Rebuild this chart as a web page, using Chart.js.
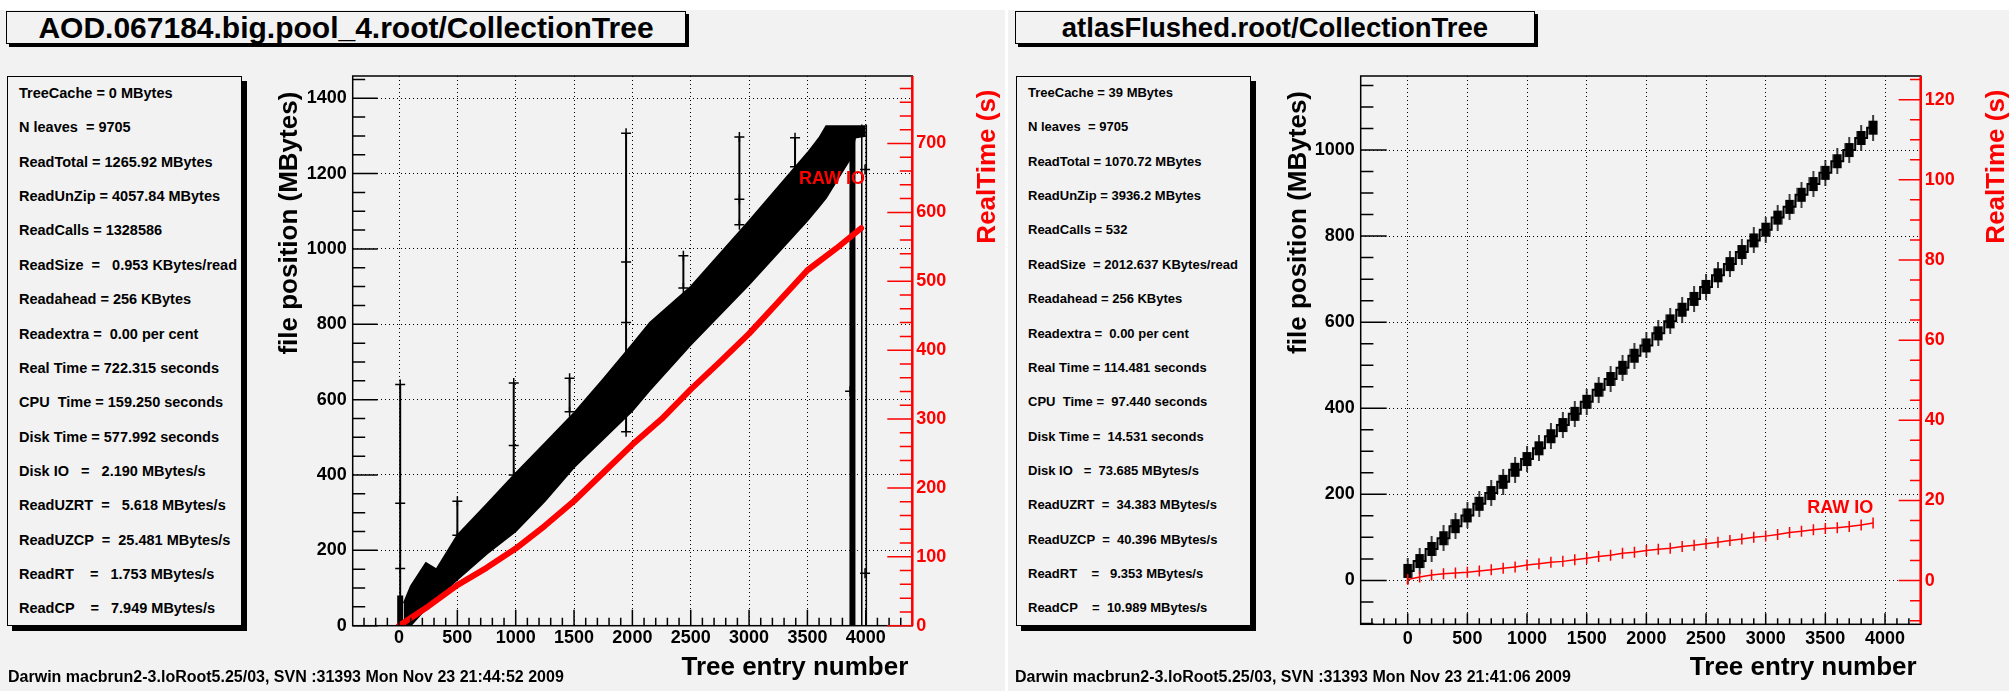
<!DOCTYPE html>
<html>
<head>
<meta charset="utf-8">
<title>TTreePerfStats</title>
<script src="https://cdn.jsdelivr.net/npm/chart.js@4.4.1/dist/chart.umd.min.js"></script>
<style>
  html, body { margin: 0; padding: 0; }
  body {
    width: 2009px; height: 691px; background: #fff; position: relative; overflow: hidden;
    font-family: "Liberation Sans", Arial, Helvetica, sans-serif; font-weight: bold; color: #000;
  }
  .pad { position: absolute; top: 10px; bottom: 0; background: #f2f2f2; }
  .titlebox {
    position: absolute; top: 11px; height: 33px; box-sizing: border-box; border: 1px solid #000;
    box-shadow: 3px 3px 0 #000; background: #f2f2f2; text-align: center; line-height: 31px; white-space: nowrap;
  }
  .stats {
    position: absolute; top: 76px; height: 550px; width: 235px; box-sizing: border-box;
    border: 1px solid #000; box-shadow: 5px 5px 0 #000; background: #f2f2f2;
  }
  .stats span { position: absolute; white-space: pre; line-height: 16px; }
  .footer { position: absolute; white-space: pre; font-size: 16px; line-height: 18px; }
  canvas { position: absolute; }
</style>
</head>
<body>
<div class="pad" style="left:0;width:1005px"></div>
<div class="pad" style="left:1008px;width:1001px"></div>

<div class="titlebox" style="left:6px;width:680px;font-size:30px">AOD.067184.big.pool_4.root/CollectionTree</div>
<div class="titlebox" style="left:1015px;width:520px;font-size:27.5px">atlasFlushed.root/CollectionTree</div>

<div class="stats" id="statsL" style="left:7px"></div>
<div class="stats" id="statsR" style="left:1016px"></div>

<canvas id="chartL" width="745" height="625" style="left:260px;top:66px"></canvas>
<canvas id="chartR" width="741" height="625" style="left:1268px;top:66px"></canvas>

<div class="footer" id="footL" style="left:8px;top:668px"></div>
<div class="footer" id="footR" style="left:1015px;top:668px"></div>

<script>
// ─── Left pad: AOD.067184.big.pool_4.root ──────────────────────────────────

const leftStats = [
  "TreeCache = 0 MBytes",
  "N leaves  = 9705",
  "ReadTotal = 1265.92 MBytes",
  "ReadUnZip = 4057.84 MBytes",
  "ReadCalls = 1328586",
  "ReadSize  =   0.953 KBytes/read",
  "Readahead = 256 KBytes",
  "Readextra =  0.00 per cent",
  "Real Time = 722.315 seconds",
  "CPU  Time = 159.250 seconds",
  "Disk Time = 577.992 seconds",
  "Disk IO   =   2.190 MBytes/s",
  "ReadUZRT  =   5.618 MBytes/s",
  "ReadUZCP  =  25.481 MBytes/s",
  "ReadRT    =   1.753 MBytes/s",
  "ReadCP    =   7.949 MBytes/s",
];
const leftFooter = "Darwin macbrun2-3.loRoot5.25/03, SVN :31393 Mon Nov 23 21:44:52 2009";

// edges of the dense band of file positions (entry -> MBytes)
const leftBandX = [40, 100, 230, 320, 500, 750, 1000, 1250, 1500, 1750, 2000, 2150, 2500, 3000, 3500, 3600, 3660, 3870, 3910, 4000];
const leftBandUpper = [60, 105, 167, 150, 241, 322, 405, 485, 565, 655, 748, 805, 900, 1075, 1255, 1295, 1326, 1326, 1326, 1326];
const leftBandLower = [0, 0, 45, 70, 122, 190, 250, 330, 420, 495, 570, 625, 745, 905, 1075, 1112, 1135, 1240, 1295, 1300];

// isolated far reads (vertical error bars)
const leftSpikeX = [10, 500, 983, 1462, 1946, 2437, 2917, 3394];
const leftSpikeLow = [0, 240, 400, 568, 515, 896, 1064, 1218];
const leftSpikeHigh = [640, 330, 644, 657, 1307, 982, 1297, 1295];

// single reads off the band
const leftOutlierX = [10, 10, 983, 1946, 1946, 2917, 851, 2122, 2837, 3866, 3994, 3994];
const leftOutlierY = [325, 152, 478, 965, 805, 1132, 245, 661, 901, 622, 1211, 139];

const leftBarX = [10, 3886];
const leftBarHigh = [80, 1320];
const leftEdgeX = [3966, 4005];
const leftEdgeHigh = [1330, 1330];

// RAW IO real time (s)
const leftRealX = [0, 250, 500, 750, 1000, 1250, 1500, 1750, 2000, 2250, 2500, 2750, 3000, 3250, 3500, 3750, 3960];
const leftRealTime = [0, 28, 59, 84, 112, 145, 181, 222, 263, 300, 343, 383, 424, 470, 516, 548, 577];

const leftXTicks = [0, 500, 1000, 1500, 2000, 2500, 3000, 3500, 4000];
const leftYTicks = [0, 200, 400, 600, 800, 1000, 1200, 1400];
const leftRtTicks = [0, 100, 200, 300, 400, 500, 600, 700];

// ─── Right pad: atlasFlushed.root ───────────────────────────────────────────

const rightStats = [
  "TreeCache = 39 MBytes",
  "N leaves  = 9705",
  "ReadTotal = 1070.72 MBytes",
  "ReadUnZip = 3936.2 MBytes",
  "ReadCalls = 532",
  "ReadSize  = 2012.637 KBytes/read",
  "Readahead = 256 KBytes",
  "Readextra =  0.00 per cent",
  "Real Time = 114.481 seconds",
  "CPU  Time =  97.440 seconds",
  "Disk Time =  14.531 seconds",
  "Disk IO   =  73.685 MBytes/s",
  "ReadUZRT  =  34.383 MBytes/s",
  "ReadUZCP  =  40.396 MBytes/s",
  "ReadRT    =   9.353 MBytes/s",
  "ReadCP    =  10.989 MBytes/s",
];
const rightFooter = "Darwin macbrun2-3.loRoot5.25/03, SVN :31393 Mon Nov 23 21:41:06 2009";

const rightEntries = [
  0, 100, 200, 300, 400, 500, 600, 700, 800, 900,
  1000, 1100, 1200, 1300, 1400, 1500, 1600, 1700, 1800, 1900,
  2000, 2100, 2200, 2300, 2400, 2500, 2600, 2700, 2800, 2900,
  3000, 3100, 3200, 3300, 3400, 3500, 3600, 3700, 3800, 3900,
];
const rightFilePos = [
  22, 45, 73, 98, 126, 151, 178, 203, 229, 257,
  282, 307, 335, 361, 387, 415, 443, 468, 494, 522,
  546, 574, 602, 629, 654, 682, 709, 735, 763, 790,
  815, 843, 868, 896, 921, 947, 974, 1000, 1028, 1052,
];
const rightRealTime = [
  0.3, 0.9, 1.4, 1.7, 1.9, 2.1, 2.4, 2.7, 3.1, 3.4,
  3.9, 4.2, 4.6, 4.8, 5.2, 5.6, 6.0, 6.3, 6.8, 7.1,
  7.5, 7.8, 8.1, 8.5, 8.8, 9.2, 9.6, 10.0, 10.4, 10.8,
  11.1, 11.5, 12.0, 12.3, 12.7, 13.0, 13.2, 13.5, 13.9, 14.4,
];

const rightXTicks = [0, 500, 1000, 1500, 2000, 2500, 3000, 3500, 4000];
const rightYTicks = [0, 200, 400, 600, 800, 1000];
const rightRtTicks = [0, 20, 40, 60, 80, 100, 120];

// ─── Helpers ────────────────────────────────────────────────────────────────

const FONT = '"Liberation Sans", Arial, Helvetica, sans-serif';
const RED = "#ff0000";

function range(from, to, step) {
  const out = [];
  for (let v = from; v <= to + 1e-9; v += step) out.push(Math.round(v * 1000) / 1000);
  return out;
}

const pts = (xs, ys) => xs.map((x, i) => ({ x, y: ys[i] }));

// vertical segments, separated by gaps
function verticals(xs, lows, highs) {
  const out = [];
  xs.forEach((x, i) => out.push({ x, y: lows[i] }, { x, y: highs[i] }, { x, y: null }));
  return out;
}

function renderStats(id, lines, size) {
  document.getElementById(id).innerHTML = lines
    .map((l, i) => `<span style="left:11px;top:${(8 + i * 34.35).toFixed(1)}px;font-size:${size}px">${l}</span>`)
    .join("");
}

function boxMarker() {
  const c = document.createElement("canvas");
  c.width = 10;
  c.height = 26;
  const g = c.getContext("2d");
  g.fillStyle = "#000";
  g.fillRect(4.25, 0, 1.5, 26);
  g.fillRect(0.5, 6, 9, 14);
  return c;
}

function zeroPad(s) {
  s.paddingTop = s.paddingBottom = s.paddingLeft = s.paddingRight = 0;
}

function tickFont(color, padding) {
  return {
    color,
    padding,
    autoSkip: false,
    maxRotation: 0,
    font: { family: FONT, size: 18, weight: "bold" },
    callback: (v) => String(v),
  };
}

// ROOT style frame, inner ticks, axis titles and the RAW IO label
const rootAxes = {
  id: "rootAxes",
  afterDatasetsDraw(chart, args, o) {
    const { ctx, chartArea: a, scales } = chart;
    ctx.save();
    ctx.lineCap = "butt";

    const tickSet = (scale, values, len, draw) => {
      values.forEach((v) => draw(scale.getPixelForValue(v), len));
    };

    ctx.strokeStyle = "#000";
    ctx.lineWidth = 1.5;
    ctx.beginPath();
    const xt = (p, len) => {
      if (p < a.left || p > a.right) return;
      ctx.moveTo(p, a.bottom);
      ctx.lineTo(p, a.bottom - len);
    };
    tickSet(scales.x, o.xMajor, o.xLen[0], xt);
    tickSet(scales.x, o.xMinor, o.xLen[1], xt);
    const yt = (p, len) => {
      if (p < a.top || p > a.bottom) return;
      ctx.moveTo(a.left, p);
      ctx.lineTo(a.left + len, p);
    };
    tickSet(scales.y, o.yMajor, o.yLen[0], yt);
    tickSet(scales.y, o.yMinor, o.yLen[1], yt);
    ctx.stroke();
    ctx.strokeRect(a.left, a.top, a.right - a.left, a.bottom - a.top);

    // red axis on the right
    ctx.strokeStyle = RED;
    ctx.lineWidth = 1.5;
    ctx.beginPath();
    const rt = (p, len) => {
      if (p < a.top || p > a.bottom) return;
      ctx.moveTo(a.right, p);
      ctx.lineTo(a.right - len, p);
    };
    tickSet(scales.y2, o.rMajor, o.rLen[0], rt);
    tickSet(scales.y2, o.rMinor, o.rLen[1], rt);
    ctx.stroke();
    ctx.lineWidth = 2.5;
    ctx.beginPath();
    ctx.moveTo(a.right, a.top);
    ctx.lineTo(a.right, a.bottom);
    ctx.stroke();

    // axis titles
    ctx.font = `bold 26px ${FONT}`;
    ctx.textBaseline = "middle";
    const vTitle = (text, x, y, color) => {
      ctx.save();
      ctx.translate(x, y);
      ctx.rotate(-Math.PI / 2);
      ctx.fillStyle = color;
      ctx.textAlign = "right";
      ctx.fillText(text, 0, 0);
      ctx.restore();
    };
    vTitle("file position (MBytes)", a.left + o.yTitle[0], a.top + o.yTitle[1], "#000");
    vTitle("RealTime (s)", a.right + o.rTitle[0], a.top + o.rTitle[1], RED);
    ctx.fillStyle = "#000";
    ctx.textAlign = "right";
    ctx.fillText("Tree entry number", a.right + o.xTitle[0], a.bottom + o.xTitle[1]);

    // RAW IO label
    ctx.font = `bold 18px ${FONT}`;
    ctx.fillStyle = RED;
    ctx.textAlign = "right";
    ctx.fillText(
      "RAW IO",
      scales.x.getPixelForValue(o.rawIO.x),
      scales[o.rawIO.axis].getPixelForValue(o.rawIO.y)
    );
    ctx.restore();
  },
};

const gridOpts = { color: "#000", lineWidth: 1, drawTicks: false, borderDash: [1, 3] };
const borderOpts = { display: false, dash: [1, 3] };

function baseOptions(p) {
  return {
    responsive: false,
    animation: false,
    devicePixelRatio: 1,
    events: [],
    layout: { padding: { top: 10, left: 0, right: 0, bottom: 0 } },
    plugins: { legend: { display: false }, tooltip: { enabled: false }, rootAxes: p.axes },
    scales: {
      x: {
        type: "linear",
        min: p.x[0],
        max: p.x[1],
        afterBuildTicks: (s) => { s.ticks = p.xTicks.map((value) => ({ value })); },
        afterFit: (s) => { s.height = p.xHeight; zeroPad(s); },
        grid: gridOpts,
        border: borderOpts,
        ticks: tickFont("#000", p.xPad),
      },
      y: {
        type: "linear",
        position: "left",
        min: p.y[0],
        max: p.y[1],
        afterBuildTicks: (s) => { s.ticks = p.yTicks.map((value) => ({ value })); },
        afterFit: (s) => { s.width = p.yWidth; zeroPad(s); },
        grid: gridOpts,
        border: borderOpts,
        ticks: tickFont("#000", 6),
      },
      y2: {
        type: "linear",
        position: "right",
        min: p.r[0],
        max: p.r[1],
        afterBuildTicks: (s) => { s.ticks = p.rTicks.map((value) => ({ value })); },
        afterFit: (s) => { s.width = p.rWidth; zeroPad(s); },
        grid: { display: false, drawTicks: false },
        border: { display: false },
        ticks: tickFont(RED, 4),
      },
    },
  };
}

// ─── Left chart ─────────────────────────────────────────────────────────────

function renderLeft() {
  const zeros = leftBarX.map(() => 0);
  new Chart(document.getElementById("chartL"), {
    type: "line",
    data: {
      datasets: [
        { data: pts(leftBandX, leftBandLower), borderColor: "#000", borderWidth: 1.5, pointRadius: 0, order: 5 },
        {
          data: pts(leftBandX, leftBandUpper), borderColor: "#000", borderWidth: 1.5, pointRadius: 0,
          fill: "-1", backgroundColor: "#000", order: 5,
        },
        {
          data: verticals(leftSpikeX, leftSpikeLow, leftSpikeHigh), borderColor: "#000", borderWidth: 2,
          pointStyle: "cross", pointRadius: 5, pointBorderWidth: 1.5, pointBorderColor: "#000", order: 4,
        },
        {
          data: pts(leftOutlierX, leftOutlierY), showLine: false, pointStyle: "cross", pointRadius: 5,
          pointBorderWidth: 1.5, pointBorderColor: "#000", order: 4,
        },
        { data: verticals(leftBarX, zeros, leftBarHigh), borderColor: "#000", borderWidth: 6, pointRadius: 0, order: 3 },
        { data: verticals(leftEdgeX, zeros, leftEdgeHigh), borderColor: "#000", borderWidth: 1.5, pointRadius: 0, order: 3 },
        {
          data: pts(leftRealX, leftRealTime), yAxisID: "y2", borderColor: RED, borderWidth: 6,
          pointRadius: 0, borderJoinStyle: "round", borderCapStyle: "round", order: 0,
        },
      ],
    },
    options: baseOptions({
      x: [-397, 4399], y: [0, 1459], r: [0, 798],
      xTicks: leftXTicks, yTicks: leftYTicks, rTicks: leftRtTicks,
      xHeight: 65.3, yWidth: 92.7, rWidth: 92.7, xPad: 2,
      axes: {
        xMajor: leftXTicks, xMinor: range(-300, 4300, 100), xLen: [16, 8],
        yMajor: leftYTicks, yMinor: range(0, 1450, 50), yLen: [25, 12.5],
        rMajor: leftRtTicks, rMinor: range(0, 780, 20), rLen: [25, 12.5],
        yTitle: [-62.7, 15.7], rTitle: [75.7, 13.5], xTitle: [-4, 42.3],
        rawIO: { x: 3994, y: 1185, axis: "y" },
      },
    }),
    plugins: [rootAxes],
  });
}

// ─── Right chart ────────────────────────────────────────────────────────────

function renderRight() {
  new Chart(document.getElementById("chartR"), {
    type: "line",
    data: {
      datasets: [
        {
          data: pts(rightEntries, rightRealTime), yAxisID: "y2", borderColor: RED, borderWidth: 1.5,
          pointStyle: "line", pointRotation: 90, pointRadius: 5.5, pointBorderWidth: 1.5, pointBorderColor: RED,
        },
        {
          data: pts(rightEntries, rightFilePos), borderColor: "#000", borderWidth: 2, stepped: "middle",
          pointStyle: boxMarker(), pointRadius: 6,
        },
      ],
    },
    options: baseOptions({
      x: [-394, 4299], y: [-102, 1172], r: [-10.9, 125.9],
      xTicks: rightXTicks, yTicks: rightYTicks, rTicks: rightRtTicks,
      xHeight: 66.7, yWidth: 92.7, rWidth: 88.3, xPad: 4,
      axes: {
        xMajor: rightXTicks, xMinor: range(-300, 4200, 100), xLen: [11, 6],
        yMajor: rightYTicks, yMinor: range(-100, 1150, 50), yLen: [26, 12.7],
        rMajor: rightRtTicks, rMinor: range(-10, 125, 5), rLen: [22, 10.7],
        yTitle: [-61.7, 15], rTitle: [76, 13.5], xTitle: [-4, 43.7],
        rawIO: { x: 3902, y: 18.2, axis: "y2" },
      },
    }),
    plugins: [rootAxes],
  });
}

renderStats("statsL", leftStats, 14.5);
renderStats("statsR", rightStats, 13);
document.getElementById("footL").textContent = leftFooter;
document.getElementById("footR").textContent = rightFooter;
renderLeft();
renderRight();
</script>
</body>
</html>
